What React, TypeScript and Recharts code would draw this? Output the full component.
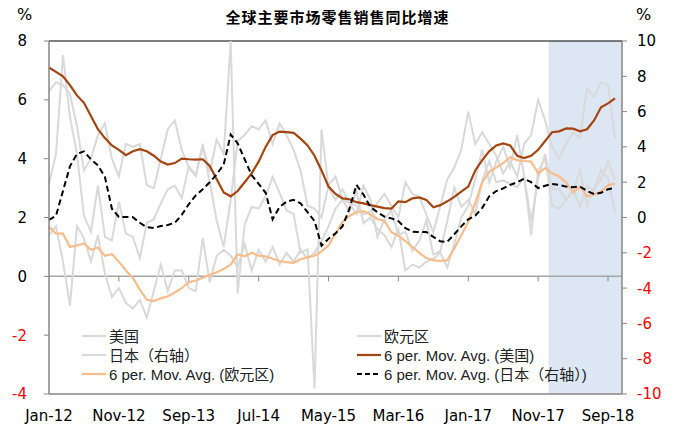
import React from "react";
import { LineChart, Line, XAxis, YAxis, ReferenceArea, ReferenceLine } from "recharts";

const monthNames = ["Jan", "Feb", "Mar", "Apr", "May", "Jun", "Jul", "Aug", "Sep", "Oct", "Nov", "Dec"];
const years = ["12", "13", "14", "15", "16", "17", "18"];
// Jan-12 .. Nov-18
const months = years.flatMap((y) => monthNames.map((m) => `${m}-${y}`)).slice(0, 83);
const xTickLabels = ["Jan-12", "Nov-12", "Sep-13", "Jul-14", "May-15", "Mar-16", "Jan-17", "Nov-17", "Sep-18"];
const leftTicks = [-4, -2, 0, 2, 4, 6, 8];
const rightTicks = [-10, -8, -6, -4, -2, 0, 2, 4, 6, 8, 10];

// 美国 (left axis)
const usRetail = [
  6.3, 6.6, 6.5, 6.2, 5.1, 3.6, 4.0, 4.8, 5.2, 4.0, 3.4, 4.5,
  4.4, 4.5, 3.1, 3.0, 4.0, 5.0, 5.3, 4.3, 3.7, 3.4, 4.5, 3.2,
  1.9, 1.0, 2.6, 4.6, 4.8, 5.1, 5.0, 5.3, 4.5, 5.2, 4.8, 4.3,
  3.6, 2.4, 2.3, 2.0, 3.1, 3.4, 2.6, 2.5, 2.4, 2.1, 2.2, 2.5,
  2.8, 2.4, 2.0, 3.2, 2.8, 2.7, 2.1, 1.5, 2.4, 3.3, 3.7, 4.3,
  5.6, 4.5, 4.9, 4.5, 4.1, 3.5, 3.9, 3.4, 4.5, 4.8, 6.0, 5.3,
  4.4, 4.0, 4.5, 4.9, 4.7, 6.4, 6.1, 6.6, 6.5, 4.7,
];

// 欧元区 (left axis)
const euroRetail = [
  1.4, 1.7, 0.5, -1.0, 1.7, 1.3, 0.5, 1.4, 0.1, -0.7, -0.4, -0.9,
  -1.1, -0.8, -1.4, -0.5, 0.4, -0.5, 0.2, 0.2, -0.4, -0.5, 1.3, -0.2,
  0.7, 0.9, 0.7, 0.3, 1.1, 0.2, 0.9, 0.5, 1.0, 0.4, 0.8, 0.5,
  0.9, 0.6, 0.8, 1.2, 1.7, 2.3, 2.6, 2.2, 2.9, 1.8, 2.0, 1.6,
  1.4, 1.0, 1.6, 0.2, 0.4, 0.3, 0.5, 0.6, 0.8, 0.3, 1.1, 2.0,
  2.4, 3.3, 4.3, 3.2, 3.9, 4.4, 3.7, 4.8, 3.4, 1.4, 3.6, 4.0,
  2.4, 2.3, 2.6, 2.9, 3.6, 2.4, 3.0, 3.3, 3.9, 3.3,
];

// 日本 (right axis)
const japanRetail = [
  1.9, 3.6, 9.2, 5.7, 3.6, 0.1, -0.8, 1.8, -1.1, -1.3, 0.9, -0.9,
  -1.1, -2.3, -0.3, -0.1, 0.8, 1.6, 1.8, 1.1, 2.9, 2.4, 4.0, 2.6,
  4.4, 3.6, 10.0, -4.3, -0.4, 0.6, 0.5, 1.2, 2.3, 1.4, 0.4, 0.2,
  -2.0, -1.8, -9.7, 5.0, 1.7, 1.0, 1.6, 0.8, 0.2, 1.8, 1.0, -1.1,
  -0.1, 0.4, -1.0, -0.8, -1.9, -1.3, -0.2, -2.1, -1.9, -0.2, 1.7, 0.6,
  1.0, 0.2, 2.1, 3.2, 2.0, 2.1, 1.9, 1.7, 2.3, -0.2, 2.2, 3.6,
  1.6, 1.6, 1.0, 1.6, 0.6, 1.8, 1.5, 2.7, 2.2, 0.3,
];

// 6 per. Mov. Avg. (美国)
const usMa = [
  7.1, 6.95, 6.8, 6.5, 6.15, 5.9, 5.45, 5.0, 4.7, 4.45,
  4.3, 4.12, 4.25, 4.32, 4.25, 4.1, 3.9, 3.8, 3.85, 4.0,
  3.98, 3.97, 3.98, 3.75, 3.3, 2.85, 2.72, 2.9, 3.2, 3.5,
  3.9, 4.4, 4.8, 4.92, 4.9, 4.88, 4.68, 4.45, 4.1, 3.6,
  3.05, 2.8, 2.65, 2.62, 2.52, 2.48, 2.42, 2.37, 2.32, 2.3,
  2.55, 2.52, 2.65, 2.68, 2.6, 2.35, 2.42, 2.55, 2.7, 2.88,
  3.05, 3.6, 3.95, 4.25, 4.45, 4.52, 4.45, 4.1, 4.02, 4.1,
  4.3, 4.6, 4.9, 4.93, 5.03, 5.02, 4.93, 5.0, 5.3, 5.75,
  5.88, 6.05,
];

// 6 per. Mov. Avg. (欧元区)
const euroMa = [
  1.68, 1.45, 1.45, 1.0, 1.05, 1.12, 0.9, 0.98, 0.7, 0.75,
  0.5, 0.2, -0.05, -0.45, -0.8, -0.84, -0.75, -0.68, -0.55, -0.4,
  -0.2, -0.14, -0.05, 0.05, 0.14, 0.25, 0.4, 0.75, 0.68, 0.8,
  0.7, 0.68, 0.6, 0.52, 0.48, 0.46, 0.58, 0.65, 0.7, 0.85,
  1.05, 1.45, 1.85, 2.05, 2.18, 2.22, 2.1, 1.95, 1.88, 1.5,
  1.38, 1.2, 1.0, 0.8, 0.62, 0.55, 0.52, 0.55, 0.95, 1.4,
  1.85, 2.5, 3.2, 3.55, 3.7, 3.85, 4.05, 3.95, 3.92, 3.9,
  3.5, 3.68, 3.5, 3.4, 3.2, 2.85, 3.05, 2.72, 2.78, 2.88,
  3.1, 3.15,
];

// 6 per. Mov. Avg. (日本（右轴）)
const japanMa = [
  -0.14, 0.1, 1.5, 2.9, 3.6, 3.75, 3.3, 2.95, 2.3, 0.5,
  0.03, 0.03, 0.02, -0.3, -0.55, -0.6, -0.48, -0.42, -0.3, 0.15,
  0.75, 1.25, 1.6, 2.0, 2.45, 3.0, 4.7, 4.2, 3.3, 2.4,
  1.9, 1.4, -0.1, 0.6, 0.9, 1.0, 0.8, 0.3, -0.2, -1.6,
  -1.2, -0.9, -0.5, 0.5, 1.85, 1.3, 0.6, 0.3, 0.05, -0.05,
  -0.2, -0.6, -0.8, -0.82, -0.82, -1.1, -1.35, -1.38, -0.95, -0.5,
  -0.1, 0.1, 0.55, 1.2, 1.5, 1.65, 1.85, 2.0, 2.2, 2.0,
  1.67, 1.8, 1.9, 1.85, 1.75, 1.72, 1.75, 1.5, 1.33, 1.4,
  1.6, 1.67,
];

const data = usRetail.map((v, i) => ({
  i,
  us: v,
  ez: euroRetail[i],
  jp: japanRetail[i],
  usMa: usMa[i],
  ezMa: euroMa[i],
  jpMa: japanMa[i],
}));

const xTicks = xTickLabels.map((l) => months.indexOf(l));
const shadeFrom = months.indexOf("Jan-18") - 0.5;
const shadeTo = months.length - 1;

const GRAY = "#D9D9D9";
const BROWN = "#A5440F";
const PEACH = "#F9BC8B";
const AXIS = "#868686";

const yTick = (anchor: "start" | "end") => (props: any) => {
  const { x, y, payload } = props;
  return (
    <text
      x={x}
      y={y}
      dy="0.36em"
      textAnchor={anchor}
      fontSize={15}
      fontFamily="DejaVu Sans"
      fill={payload.value < 0 ? "#FF0000" : "#000"}
    >
      {payload.value}
    </text>
  );
};

const legendRows = [
  [
    { label: "美国", color: GRAY, dash: undefined },
    { label: "欧元区", color: GRAY, dash: undefined },
  ],
  [
    { label: "日本（右轴）", color: GRAY, dash: undefined },
    { label: "6 per. Mov. Avg. (美国)", color: BROWN, dash: undefined },
  ],
  [
    { label: "6 per. Mov. Avg. (欧元区)", color: PEACH, dash: undefined },
    { label: "6 per. Mov. Avg. (日本（右轴）)", color: "#000", dash: "5 3" },
  ],
];

function LegendItem({ label, color, dash }: { label: string; color: string; dash?: string }) {
  return (
    <div style={{ display: "flex", alignItems: "center", height: 19 }}>
      <svg width={25} height={10} style={{ marginRight: 2 }}>
        <line x1={0} y1={5} x2={24} y2={5} stroke={color} strokeWidth={2.2} strokeDasharray={dash} />
      </svg>
      <span style={{ fontFamily: "'Liberation Sans', 'Noto Sans CJK SC'", fontSize: 15, color: "#222", whiteSpace: "nowrap" }}>
        {label}
      </span>
    </div>
  );
}

export default function App() {
  return (
    <div style={{ position: "absolute", left: 0, top: 0, width: 675, height: 425, background: "#fff" }}>
      <LineChart width={675} height={425} data={data} margin={{ top: 41, right: 0, bottom: 0, left: 0 }}>
        <ReferenceArea
          xAxisId="x"
          yAxisId="left"
          x1={shadeFrom}
          x2={shadeTo}
          y1={-4}
          y2={8}
          fill="#DDE7F3"
          fillOpacity={1}
          stroke="none"
        />
        <XAxis
          xAxisId="x"
          dataKey="i"
          type="number"
          domain={[0, shadeTo]}
          ticks={xTicks}
          interval={0}
          tickFormatter={(v: number) => months[v]}
          height={31}
          tickLine={false}
          tickSize={0}
          tickMargin={16}
          axisLine={{ stroke: AXIS, strokeWidth: 1.5 }}
          tick={{ fontSize: 15, fontFamily: "DejaVu Sans", fill: "#000" }}
        />
        <YAxis
          yAxisId="left"
          domain={[-4, 8]}
          ticks={leftTicks}
          interval={0}
          width={49}
          tickSize={5}
          tickMargin={17}
          axisLine={{ stroke: AXIS, strokeWidth: 1.5 }}
          tickLine={{ stroke: AXIS }}
          tick={yTick("end")}
        />
        <YAxis
          yAxisId="right"
          orientation="right"
          domain={[-10, 10]}
          ticks={rightTicks}
          interval={0}
          width={53}
          tickSize={5}
          tickMargin={10}
          axisLine={{ stroke: AXIS, strokeWidth: 1.5 }}
          tickLine={{ stroke: AXIS }}
          tick={yTick("start")}
        />
        <ReferenceLine xAxisId="x" yAxisId="left" y={0} stroke="#A6A6A6" strokeWidth={1.5} />
        <ReferenceLine xAxisId="x" yAxisId="left" y={8} stroke="#000" strokeWidth={1.2} />
        {xTicks.slice(1).map((t) => (
          <ReferenceLine
            key={t}
            xAxisId="x"
            yAxisId="left"
            segment={[{ x: t, y: 0 }, { x: t, y: -0.17 }]}
            stroke={AXIS}
            strokeWidth={1}
          />
        ))}
        <Line xAxisId="x" yAxisId="left" dataKey="us" stroke={GRAY} strokeWidth={2} dot={false} isAnimationActive={false} />
        <Line xAxisId="x" yAxisId="left" dataKey="ez" stroke={GRAY} strokeWidth={2} dot={false} isAnimationActive={false} />
        <Line xAxisId="x" yAxisId="right" dataKey="jp" stroke={GRAY} strokeWidth={2} dot={false} isAnimationActive={false} />
        <Line xAxisId="x" yAxisId="left" dataKey="ezMa" stroke={PEACH} strokeWidth={2.2} dot={false} isAnimationActive={false} />
        <Line xAxisId="x" yAxisId="left" dataKey="usMa" stroke={BROWN} strokeWidth={2.2} dot={false} isAnimationActive={false} />
        <Line
          xAxisId="x"
          yAxisId="right"
          dataKey="jpMa"
          stroke="#000"
          strokeWidth={2}
          strokeDasharray="6 3.5"
          dot={false}
          isAnimationActive={false}
        />
      </LineChart>

      <div
        style={{
          position: "absolute",
          left: 0,
          top: 6,
          width: 675,
          textAlign: "center",
          fontFamily: "'Noto Sans CJK SC'",
          fontWeight: 700,
          fontSize: 15,
          letterSpacing: 1,
        }}
      >
        全球主要市场零售销售同比增速
      </div>
      <div style={{ position: "absolute", left: 17, top: 5, fontFamily: "DejaVu Sans", fontSize: 16 }}>%</div>
      <div style={{ position: "absolute", left: 636, top: 5, fontFamily: "DejaVu Sans", fontSize: 16 }}>%</div>

      <div style={{ position: "absolute", left: 82, top: 326 }}>
        {legendRows.map((row, r) => (
          <div key={r} style={{ display: "flex" }}>
            <div style={{ width: 275 }}>
              <LegendItem {...row[0]} />
            </div>
            <LegendItem {...row[1]} />
          </div>
        ))}
      </div>
    </div>
  );
}
